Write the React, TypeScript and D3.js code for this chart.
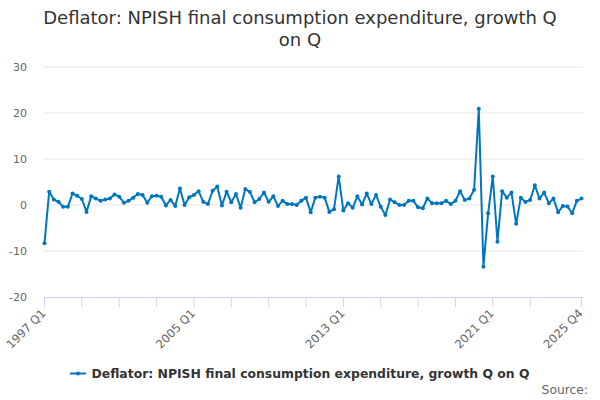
import React from 'react';
import * as d3 from 'd3';

// Quarterly growth, 1997 Q1 to 2025 Q4
const values: number[] = [
  -8.3, 2.9, 1.2, 0.7, -0.4, -0.4, 2.5, 2.0, 1.3, -1.5,
  1.9, 1.4, 0.9, 1.2, 1.4, 2.3, 1.8, 0.5, 0.9, 1.6,
  2.4, 2.2, 0.5, 1.9, 2.0, 1.8, -0.1, 1.1, -0.2, 3.6,
  0.0, 1.7, 2.2, 3.0, 0.7, 0.2, 3.1, 4.0, -0.1, 2.9,
  0.6, 2.4, -0.6, 3.5, 2.8, 0.6, 1.3, 2.7, 0.7, 1.9,
  -0.2, 0.9, 0.2, 0.2, 0.0, 0.9, 1.6, -1.6, 1.6, 1.8,
  1.6, -1.5, -0.9, 6.2, -1.2, 0.4, -0.6, 1.9, 0.1, 2.5,
  0.2, 2.2, -0.4, -2.2, 1.2, 0.6, 0.0, 0.0, 0.9, 0.9,
  -0.5, -0.7, 1.4, 0.4, 0.4, 0.4, 0.9, 0.2, 0.9, 3.0,
  1.1, 1.4, 3.3, 20.9, -13.4, -1.8, 6.2, -8.0, 3.0, 1.6,
  2.7, -4.1, 1.6, 0.65, 1.1, 4.3, 1.4, 2.7, 0.4, 1.4,
  -1.6, -0.2, -0.3, -1.8, 0.9, 1.4,
];

const years = d3.range(1997, 2026);
const quarters = years.flatMap((yr) => [1, 2, 3, 4].map((q) => `${yr} Q${q}`));

const yTicks = [-20, -10, 0, 10, 20, 30];
const tickIdx = [0, 8, 16, 24, 32, 40, 48, 56, 64, 72, 80, 88, 96, 104, 115];
const labelIdx = [0, 32, 64, 96, 115];

const title = ['Deflator: NPISH final consumption expenditure, growth Q', 'on Q'];
const seriesName = 'Deflator: NPISH final consumption expenditure, growth Q on Q';

const color = '#0076be';
const font = '"DejaVu Sans", sans-serif';

const App: React.FC = () => {
  const width = 600;
  const height = 400;
  const left = 43;
  const right = 583;

  const x = d3.scaleLinear().domain([0, values.length - 1]).range([44.5, 581.5]);
  const y = d3.scaleLinear().domain([-20, 30]).range([297, 67]);

  const line = d3.line<number>()
    .x((_, i) => x(i))
    .y((d) => y(d));

  return (
    <svg width={width} height={height} style={{ position: 'absolute', left: 0, top: 0, fontFamily: font }}>
      <rect width={width} height={height} fill="#fff" />
      {title.map((t, i) => (
        <text key={i} x={300} y={24 + i * 22} textAnchor="middle" fontSize={18} fill="#333">{t}</text>
      ))}

      {/* grid + y labels */}
      {yTicks.map((t) => (
        <g key={t}>
          {t !== -20 && <line x1={left} x2={right} y1={y(t)} y2={y(t)} stroke="#e6e6e6" strokeWidth={1} />}
          <text x={27} y={y(t)} dy="0.35em" textAnchor="end" fontSize={11} fill="#666">{t}</text>
        </g>
      ))}

      {/* x axis */}
      <line x1={left} x2={right} y1={297.5} y2={297.5} stroke="#ccd6eb" strokeWidth={1} />
      {tickIdx.map((i) => (
        <line key={i} x1={x(i)} x2={x(i)} y1={297} y2={307} stroke="#ccd6eb" strokeWidth={1} />
      ))}
      {labelIdx.map((i) => (
        <text key={i} transform={`translate(${x(i) + 2},${314}) rotate(-45)`} textAnchor="end" fontSize={11.6} fill="#666">
          {quarters[i]}
        </text>
      ))}

      {/* series */}
      <path d={line(values) ?? ''} fill="none" stroke={color} strokeWidth={2} strokeLinejoin="round" />
      {values.map((v, i) => (
        <circle key={i} cx={x(i)} cy={y(v)} r={2} fill={color} />
      ))}

      {/* legend */}
      <line x1={70} x2={86} y1={373.5} y2={373.5} stroke={color} strokeWidth={2} />
      <circle cx={78} cy={373.5} r={2} fill={color} />
      <text x={91.5} y={373.5} dy="0.35em" fontSize={12.4} fontWeight="bold" fill="#333">{seriesName}</text>

      <text x={588} y={394} textAnchor="end" fontSize={12.3} fill="#666">Source:</text>
    </svg>
  );
};

export default App;
